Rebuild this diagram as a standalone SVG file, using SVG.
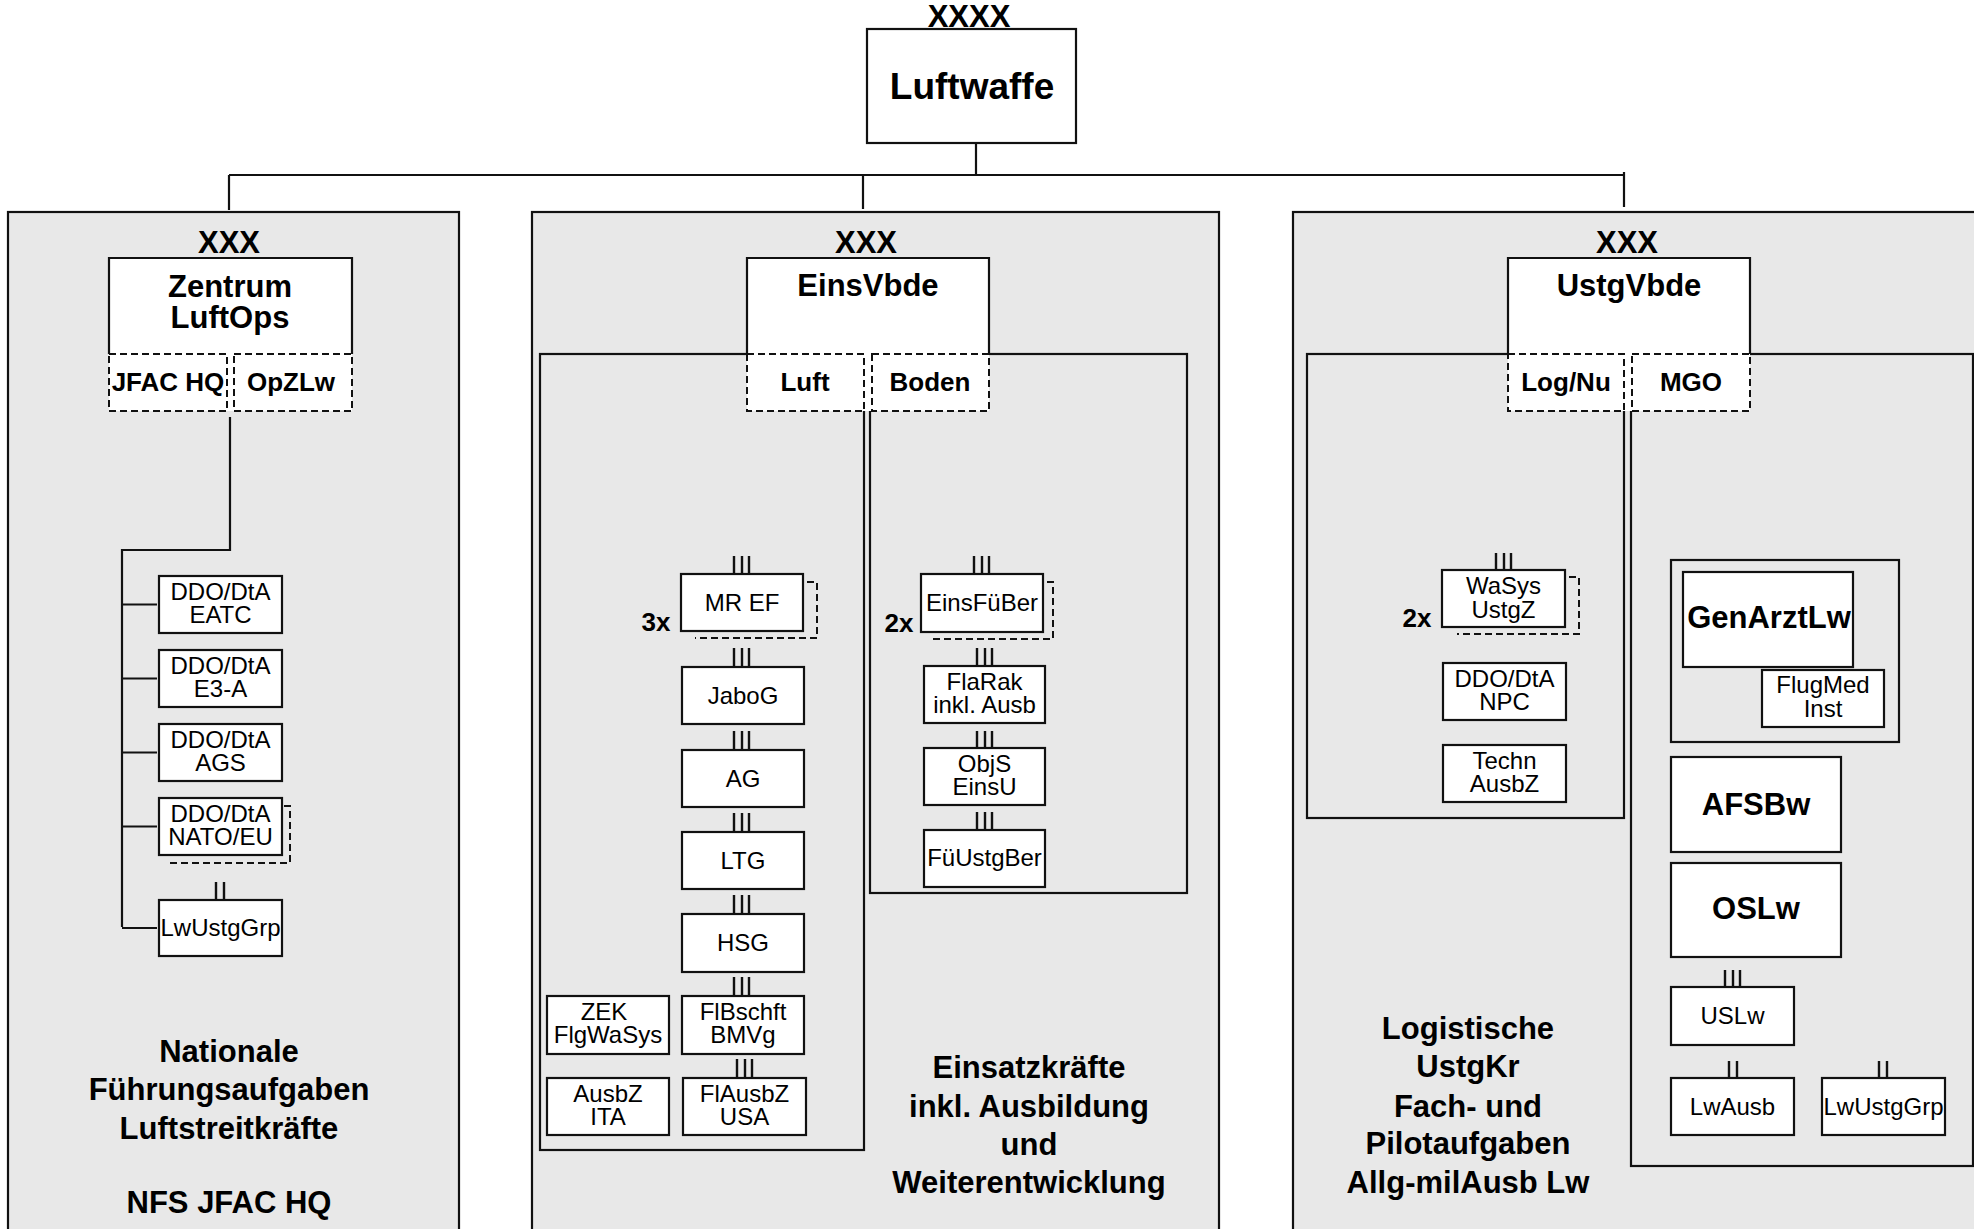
<svg xmlns="http://www.w3.org/2000/svg" width="1974" height="1229" viewBox="0 0 1974 1229">
<style>
text{font-family:"Liberation Sans",Arial,sans-serif;fill:#000;text-anchor:middle}
.t{font-size:24px}
.b{font-size:31px;font-weight:bold}
.s{font-size:26px;font-weight:bold}
.big{font-size:37px;font-weight:bold}
.panel{fill:#e8e8e8;stroke:#111;stroke-width:2.2}
.box{fill:#fff;stroke:#111;stroke-width:2.2}
.frame{fill:none;stroke:#111;stroke-width:2.2}
.dash{fill:none;stroke:#111;stroke-width:2;stroke-dasharray:7 4}
.ln{fill:none;stroke:#111;stroke-width:2.2}
.sym{fill:none;stroke:#111;stroke-width:2.4}
</style>

<!-- panels -->
<g id="panel-left"><rect class="panel" x="8" y="212" width="451" height="1040"/></g>
<g id="panel-mid"><rect class="panel" x="532" y="212" width="687" height="1040"/></g>
<g id="panel-right"><rect class="panel" x="1293" y="212" width="720" height="1040"/></g>

<!-- connectors -->
<g id="connectors">
<path class="ln" d="M976 143V175M229 175H1624M229 175V210M863 175V209M1624 172V207"/>
<path class="ln" d="M230 417V550H122V927M122 604.5H157M122 678.5H157M122 752.5H157M122 826.5H157M122 928H157"/>
<path class="sym" d="M734 556V574M742 556V574M749 556V574M734 648V667M742 648V667M749 648V667M734 731V750M742 731V750M749 731V750M734 813V832M742 813V832M749 813V832M734 895V914M742 895V914M749 895V914M734 977V996M742 977V996M749 977V996M737 1059V1078M745 1059V1078M752 1059V1078"/>
<path class="sym" d="M974 556V574M982 556V574M989 556V574M977 648V666M985 648V666M992 648V666M977 731V748M985 731V748M992 731V748M977 812V830M985 812V830M992 812V830"/>
<path class="sym" d="M1496 553V570M1504 553V570M1511 553V570M1725 970V987M1733 970V987M1740 970V987M1729 1061V1078M1737 1061V1078M1879 1061V1078M1887 1061V1078M216 882V900M224 882V900"/>
</g>

<!-- top -->
<g id="luftwaffe">
<rect class="box" x="867" y="29" width="209" height="114"/>
<text class="b" x="969" y="27">XXXX</text>
<text class="big" x="972" y="99">Luftwaffe</text>
</g>

<!-- left -->
<g id="zentrum-luftops">
<text class="b" x="229" y="253">XXX</text>
<rect x="109" y="258" width="243" height="153" fill="#fff"/>
<path class="frame" d="M109 354V258H352V354"/>
<rect class="dash" x="109" y="354" width="118" height="57"/>
<rect class="dash" x="234" y="354" width="118" height="57"/>
<text class="b" x="230" y="297">Zentrum</text>
<text class="b" x="230" y="328">LuftOps</text>
<text class="s" x="168" y="391">JFAC HQ</text>
<text class="s" x="291" y="391">OpZLw</text>
</g>
<g id="ddo-eatc"><rect class="box" x="159" y="576" width="123" height="57"/><text class="t" x="220.5" y="600">DDO/DtA</text><text class="t" x="220.5" y="623">EATC</text></g>
<g id="ddo-e3a"><rect class="box" x="159" y="650" width="123" height="57"/><text class="t" x="220.5" y="674">DDO/DtA</text><text class="t" x="220.5" y="697">E3-A</text></g>
<g id="ddo-ags"><rect class="box" x="159" y="724" width="123" height="57"/><text class="t" x="220.5" y="748">DDO/DtA</text><text class="t" x="220.5" y="771">AGS</text></g>
<g id="ddo-nato"><path class="dash" d="M284 806H290V863H167"/><rect class="box" x="159" y="798" width="123" height="57"/><text class="t" x="220.5" y="822">DDO/DtA</text><text class="t" x="220.5" y="845">NATO/EU</text></g>
<g id="lwustggrp-left"><rect class="box" x="159" y="900" width="123" height="56"/><text class="t" x="220.5" y="936">LwUstgGrp</text></g>
<g id="footer-left">
<text class="b" x="229" y="1062">Nationale</text>
<text class="b" x="229" y="1100">Führungsaufgaben</text>
<text class="b" x="229" y="1139">Luftstreitkräfte</text>
<text class="b" x="229" y="1213">NFS JFAC HQ</text>
</g>

<!-- middle -->
<g id="frame-luft"><rect class="frame" x="540" y="354" width="324" height="796"/></g>
<g id="frame-boden"><rect class="frame" x="870" y="354" width="317" height="539"/></g>
<g id="einsvbde">
<text class="b" x="866" y="253">XXX</text>
<rect x="747" y="258" width="242" height="153" fill="#fff"/>
<path class="frame" d="M747 354V258H989V354"/>
<rect class="dash" x="747" y="354" width="117" height="57"/>
<rect class="dash" x="872" y="354" width="117" height="57"/>
<text class="b" x="868" y="296">EinsVbde</text>
<text class="s" x="805" y="391">Luft</text>
<text class="s" x="930" y="391">Boden</text>
</g>
<g id="mref"><path class="dash" d="M807 582H817V638H695"/><rect class="box" x="681" y="574" width="122" height="57"/><text class="t" x="742" y="611">MR EF</text><text class="s" x="656" y="631">3x</text></g>
<g id="jabog"><rect class="box" x="682" y="667" width="122" height="57"/><text class="t" x="743" y="704">JaboG</text></g>
<g id="ag"><rect class="box" x="682" y="750" width="122" height="57"/><text class="t" x="743" y="787">AG</text></g>
<g id="ltg"><rect class="box" x="682" y="832" width="122" height="57"/><text class="t" x="743" y="869">LTG</text></g>
<g id="hsg"><rect class="box" x="682" y="914" width="122" height="58"/><text class="t" x="743" y="951">HSG</text></g>
<g id="flbschft"><rect class="box" x="682" y="996" width="122" height="58"/><text class="t" x="743" y="1020">FlBschft</text><text class="t" x="743" y="1043">BMVg</text></g>
<g id="flausbz"><rect class="box" x="683" y="1078" width="123" height="57"/><text class="t" x="744.5" y="1102">FlAusbZ</text><text class="t" x="744.5" y="1125">USA</text></g>
<g id="zek"><rect class="box" x="547" y="996" width="122" height="58"/><text class="t" x="604" y="1020">ZEK</text><text class="t" x="608" y="1043">FlgWaSys</text></g>
<g id="ausbz-ita"><rect class="box" x="547" y="1078" width="122" height="57"/><text class="t" x="608" y="1102">AusbZ</text><text class="t" x="608" y="1125">ITA</text></g>
<g id="einsfuber"><path class="dash" d="M1047 582H1053V639H931"/><rect class="box" x="921" y="574" width="122" height="58"/><text class="t" x="982" y="611">EinsFüBer</text><text class="s" x="899" y="632">2x</text></g>
<g id="flarak"><rect class="box" x="924" y="666" width="121" height="57"/><text class="t" x="984.5" y="690">FlaRak</text><text class="t" x="984.5" y="713">inkl. Ausb</text></g>
<g id="objs"><rect class="box" x="924" y="748" width="121" height="57"/><text class="t" x="984.5" y="772">ObjS</text><text class="t" x="984.5" y="795">EinsU</text></g>
<g id="fuustgber"><rect class="box" x="924" y="830" width="121" height="57"/><text class="t" x="984.5" y="866">FüUstgBer</text></g>
<g id="footer-mid">
<text class="b" x="1029" y="1078">Einsatzkräfte</text>
<text class="b" x="1029" y="1117">inkl. Ausbildung</text>
<text class="b" x="1029" y="1155">und</text>
<text class="b" x="1029" y="1193">Weiterentwicklung</text>
</g>

<!-- right -->
<g id="frame-log"><rect class="frame" x="1307" y="354" width="317" height="464"/></g>
<g id="frame-mgo"><rect class="frame" x="1631" y="354" width="342" height="812"/></g>
<g id="ustgvbde">
<text class="b" x="1627" y="253">XXX</text>
<rect x="1508" y="258" width="242" height="153" fill="#fff"/>
<path class="frame" d="M1508 354V258H1750V354"/>
<rect class="dash" x="1508" y="354" width="116" height="57"/>
<rect class="dash" x="1632" y="354" width="118" height="57"/>
<text class="b" x="1629" y="296">UstgVbde</text>
<text class="s" x="1566" y="391">Log/Nu</text>
<text class="s" x="1691" y="391">MGO</text>
</g>
<g id="wasys"><path class="dash" d="M1569 577H1579V634H1457"/><rect class="box" x="1442" y="570" width="123" height="57"/><text class="t" x="1503.5" y="594">WaSys</text><text class="t" x="1503.5" y="618">UstgZ</text><text class="s" x="1417" y="627">2x</text></g>
<g id="ddo-npc"><rect class="box" x="1443" y="663" width="123" height="57"/><text class="t" x="1504.5" y="687">DDO/DtA</text><text class="t" x="1504.5" y="710">NPC</text></g>
<g id="techn-ausbz"><rect class="box" x="1443" y="745" width="123" height="57"/><text class="t" x="1504.5" y="769">Techn</text><text class="t" x="1504.5" y="792">AusbZ</text></g>
<g id="genarzt-group"><rect class="frame" x="1671" y="560" width="228" height="182"/></g>
<g id="genarztlw"><rect class="box" x="1683" y="572" width="170" height="95" stroke-width="2.8"/><text class="b" x="1769" y="628">GenArztLw</text></g>
<g id="flugmed"><rect class="box" x="1762" y="670" width="122" height="57"/><text class="t" x="1823" y="693">FlugMed</text><text class="t" x="1823" y="717">Inst</text></g>
<g id="afsbw"><rect class="box" x="1671" y="757" width="170" height="95"/><text class="b" x="1756" y="815">AFSBw</text></g>
<g id="oslw"><rect class="box" x="1671" y="863" width="170" height="94"/><text class="b" x="1756" y="919">OSLw</text></g>
<g id="uslw"><rect class="box" x="1671" y="987" width="123" height="58"/><text class="t" x="1732.5" y="1024">USLw</text></g>
<g id="lwausb"><rect class="box" x="1671" y="1078" width="123" height="57"/><text class="t" x="1732.5" y="1115">LwAusb</text></g>
<g id="lwustggrp-right"><rect class="box" x="1822" y="1078" width="123" height="57"/><text class="t" x="1883.5" y="1115">LwUstgGrp</text></g>
<g id="footer-right">
<text class="b" x="1468" y="1039">Logistische</text>
<text class="b" x="1468" y="1077">UstgKr</text>
<text class="b" x="1468" y="1117">Fach- und</text>
<text class="b" x="1468" y="1154">Pilotaufgaben</text>
<text class="b" x="1468" y="1193">Allg-milAusb Lw</text>
</g>
</svg>
